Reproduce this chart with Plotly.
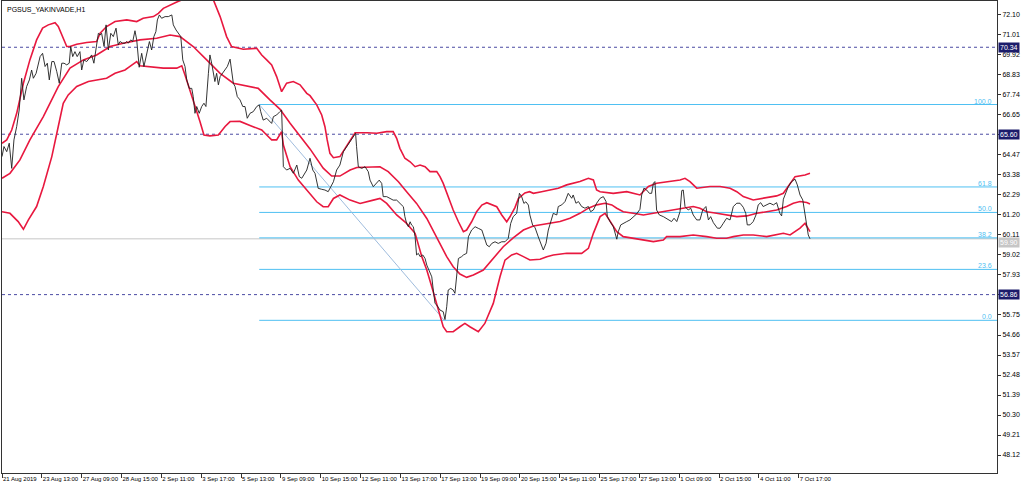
import plotly.graph_objects as go

symbol_title = "PGSUS_YAKINVADE,H1"

x_labels = ["21 Aug 2019", "23 Aug 13:00", "27 Aug 09:00", "28 Aug 15:00", "2 Sep 11:00",
            "3 Sep 17:00", "5 Sep 13:00", "9 Sep 09:00", "10 Sep 15:00", "12 Sep 11:00",
            "13 Sep 17:00", "17 Sep 13:00", "19 Sep 09:00", "20 Sep 15:00", "24 Sep 11:00",
            "25 Sep 17:00", "27 Sep 13:00", "1 Oct 09:00", "2 Oct 15:00", "4 Oct 11:00",
            "7 Oct 17:00"]
bars_per_label = 16
x_max_bar = 399.6

y_ticks = [72.10, 71.01, 69.92, 68.83, 67.74, 66.65, 65.56, 64.47, 63.38, 62.29, 61.20,
           60.11, 59.02, 57.93, 56.84, 55.75, 54.66, 53.57, 52.48, 51.39, 50.30, 49.21, 48.12]
# tick labels hidden behind the price-label boxes in the reference
y_ticks_hidden = [65.56, 56.84]
y_range = [47.14, 72.86]

level_lines = [70.34, 65.60, 56.86]
bid_price = 59.90

fib_start_bar = 103.3
fib_end_bar = 177.6
fib_high = 67.22
fib_low = 55.46
fib_levels = [0.0, 23.6, 38.2, 50.0, 61.8, 100.0]

# (bar index, price)
price_pts = [
    (0, 64.38), (0.8, 64.93), (1.9, 64.65), (2.9, 65.11), (3.9, 63.74), (4.8, 65.29), (5.9, 66.02), (6.9, 66.92), (7.9, 68.65), (8.8, 67.47),
    (9.9, 68.20), (11.0, 68.56), (11.9, 69.10), (12.6, 68.65), (13.7, 68.92), (14.6, 69.47), (15.3, 69.83), (16.3, 70.01), (17.3, 69.29), (18.2, 69.47),
    (19.0, 68.56), (20.0, 69.56), (20.9, 69.56), (22.0, 69.01), (23.0, 68.38), (24.0, 69.47), (24.9, 69.47), (26.0, 69.38), (27.0, 69.47), (27.6, 70.38),
    (28.4, 69.83), (29.3, 70.10), (30.2, 69.83), (31.3, 70.10), (32.0, 69.10), (32.9, 69.65), (34.0, 69.56), (35.1, 69.74), (36.0, 69.92), (36.9, 69.47),
    (38.0, 70.38), (38.7, 71.10), (39.4, 71.01), (40.0, 71.10), (41.0, 70.38), (41.8, 71.56), (42.7, 70.19), (43.7, 71.10), (44.7, 70.92), (45.8, 71.38),
    (46.7, 70.47), (47.4, 70.65), (48.5, 70.56), (49.4, 70.56), (50.1, 70.65), (50.7, 70.56), (51.7, 70.74), (52.5, 70.65), (53.4, 71.24), (54.1, 70.74),
    (55.1, 69.25), (56.1, 70.01), (57.0, 69.29), (58.1, 70.01), (59.2, 70.65), (60.1, 70.19), (61.0, 70.92), (61.8, 71.19), (62.4, 71.83), (63.2, 72.10),
    (64.1, 71.92), (65.5, 72.01), (66.8, 72.01), (68.2, 72.10), (68.8, 71.56), (69.9, 71.28), (70.8, 71.10), (71.8, 70.92), (72.6, 69.65), (73.5, 69.29),
    (74.2, 68.56), (75.2, 68.10), (76.2, 68.10), (76.8, 67.65), (77.5, 66.74), (78.2, 67.11), (79.2, 66.74), (80.2, 67.11), (81.1, 67.29), (81.9, 67.11),
    (82.9, 68.92), (83.5, 69.92), (84.2, 69.47), (84.9, 68.92), (85.5, 68.47), (86.2, 68.92), (86.9, 68.29), (87.6, 68.74), (88.6, 68.92), (89.6, 69.10),
    (90.5, 69.29), (91.6, 69.69), (92.2, 69.01), (92.9, 68.38), (93.6, 68.20), (94.5, 67.65), (95.6, 67.47), (96.7, 67.11), (97.6, 67.11), (98.5, 66.47),
    (99.6, 66.74), (100.9, 66.83), (102.3, 67.11), (103.3, 67.20), (103.9, 66.83), (104.9, 66.37), (106.3, 66.47), (108.3, 66.19), (109.0, 66.56), (110.3, 66.65),
    (111.6, 66.83), (112.3, 66.92), (113.0, 63.83), (114.3, 63.65), (115.7, 63.74), (117.0, 63.47), (118.4, 63.92), (119.4, 63.29), (120.4, 63.20), (121.3, 63.38),
    (122.4, 63.65), (123.7, 64.29), (124.8, 63.65), (125.7, 63.47), (127.0, 62.65), (128.4, 62.60), (129.7, 62.56), (131.0, 62.47), (132.0, 62.74), (133.1, 63.01),
    (134.4, 63.65), (135.7, 63.92), (137.1, 64.65), (138.4, 64.92), (139.8, 65.19), (141.1, 65.47), (142.0, 65.65), (142.4, 64.92), (143.1, 63.83), (144.5, 63.74),
    (145.8, 63.83), (147.1, 63.56), (147.8, 63.10), (149.1, 62.74), (150.5, 62.92), (151.5, 63.10), (152.5, 62.92), (153.1, 62.20), (154.5, 62.20), (155.8, 62.10),
    (157.1, 62.01), (158.5, 62.01), (159.8, 61.83), (161.2, 61.65), (161.8, 61.11), (162.5, 60.74), (163.2, 60.56), (163.9, 60.83), (164.5, 60.65), (165.2, 60.56),
    (165.9, 60.01), (166.5, 59.02), (167.2, 59.11), (167.9, 58.93), (169.0, 59.02), (169.9, 58.83), (170.6, 58.47), (171.9, 58.11), (172.6, 57.83), (173.2, 57.11),
    (173.9, 56.38), (174.6, 56.29), (175.9, 56.02), (177.2, 55.93), (177.9, 55.50), (178.6, 56.20), (179.2, 57.11), (180.2, 57.20), (181.2, 57.11), (181.9, 56.93),
    (182.6, 58.11), (183.3, 58.83), (184.6, 58.93), (185.3, 59.02), (186.6, 59.11), (187.3, 60.01), (188.6, 60.38), (190.0, 60.56), (191.3, 60.47), (192.7, 60.38),
    (193.6, 60.01), (194.7, 59.56), (195.7, 59.47), (196.7, 59.65), (198.0, 59.74), (199.3, 59.65), (200.7, 59.74), (202.0, 59.74), (203.3, 59.92), (204.3, 60.74),
    (205.3, 61.11), (206.7, 61.29), (207.8, 62.38), (208.7, 62.20), (209.6, 61.83), (210.4, 61.92), (211.4, 61.74), (212.0, 61.20), (213.1, 60.65), (214.1, 60.50),
    (215.4, 60.00), (216.7, 59.48), (217.4, 59.29), (218.5, 59.66), (219.4, 60.38), (221.4, 61.29), (222.8, 61.20), (223.4, 61.66), (224.8, 61.75), (226.1, 61.93),
    (227.4, 62.38), (228.8, 62.11), (229.4, 62.29), (230.5, 61.84), (231.5, 61.93), (232.8, 61.66), (234.1, 61.57), (235.5, 61.66), (236.4, 61.38), (237.5, 61.47),
    (238.8, 61.84), (240.2, 62.11), (241.5, 62.20), (242.6, 61.93), (243.1, 61.11), (244.2, 60.84), (245.5, 60.57), (246.9, 59.88), (247.5, 60.29), (248.5, 60.66),
    (249.5, 60.75), (250.9, 60.84), (252.2, 60.93), (253.5, 61.07), (254.9, 61.26), (256.2, 61.51), (256.9, 62.29), (257.8, 62.66), (258.9, 62.56), (260.0, 62.38),
    (260.9, 62.38), (261.6, 62.93), (262.2, 63.02), (262.9, 61.47), (264.0, 61.20), (265.6, 61.11), (266.9, 61.02), (268.3, 60.89), (268.9, 60.84), (269.9, 61.02),
    (271.0, 60.84), (272.3, 61.38), (273.0, 62.53), (273.6, 62.56), (274.3, 61.66), (275.6, 61.47), (276.6, 61.57), (277.6, 61.20), (279.0, 60.93), (280.3, 60.93),
    (281.4, 61.47), (282.7, 61.66), (283.7, 60.93), (284.6, 61.11), (285.7, 60.78), (287.3, 60.48), (288.4, 60.48), (289.7, 60.75), (291.0, 61.02), (292.4, 60.93),
    (293.7, 61.66), (295.1, 61.84), (296.4, 61.84), (297.7, 61.62), (298.7, 61.29), (299.3, 60.66), (300.4, 60.66), (301.7, 60.84), (302.8, 61.20), (303.7, 61.75),
    (304.7, 61.87), (305.7, 61.66), (307.1, 61.75), (308.4, 61.84), (309.8, 61.75), (311.1, 61.87), (312.4, 61.29), (313.1, 61.15), (313.8, 62.06), (314.9, 62.47),
    (315.8, 62.75), (317.1, 63.02), (318.5, 63.15), (319.4, 62.84), (320.5, 62.29), (321.6, 62.02), (322.5, 61.20), (323.2, 60.57), (323.8, 60.11), (324.5, 59.90),
]

upper_pts = [
    (0, 65.11), (1.9, 65.29), (3.9, 65.83), (5.9, 66.74), (8.6, 68.38), (11.2, 69.65), (13.9, 70.74), (16.3, 71.38), (18.6, 71.56), (21.3, 71.68),
    (22.6, 71.47), (24.0, 71.01), (26.0, 70.38), (27.3, 70.38), (30.0, 70.50), (34.0, 70.60), (38.0, 70.65), (39.4, 71.10), (42.0, 71.47), (45.4, 71.74),
    (50.1, 71.83), (54.1, 71.74), (56.7, 71.92), (60.8, 72.01), (62.8, 72.19), (64.8, 72.46), (67.5, 72.65), (70.2, 72.80), (72.2, 72.92), (74.2, 73.05),
    (76.8, 73.40), (79.5, 73.70), (82.2, 73.60), (84.9, 72.92), (87.6, 72.01), (90.2, 70.92), (92.2, 70.38), (96.9, 70.23), (102.3, 70.28), (104.3, 69.92),
    (106.3, 69.65), (108.3, 69.38), (110.3, 68.74), (112.3, 67.92), (114.3, 68.38), (117.0, 68.47), (119.7, 68.29), (122.4, 67.83), (123.7, 67.70), (126.4, 67.20),
    (128.4, 66.65), (129.7, 66.01), (130.6, 65.29), (131.7, 64.56), (133.1, 64.32), (135.7, 64.38), (137.8, 64.83), (139.8, 65.28), (141.8, 65.68), (146.5, 65.68),
    (150.5, 65.65), (154.5, 65.74), (157.1, 65.74), (158.5, 65.38), (159.8, 64.83), (161.8, 64.29), (163.9, 64.10), (165.9, 63.83), (167.9, 63.92), (169.9, 63.83),
    (171.9, 63.56), (174.6, 63.56), (175.9, 63.29), (177.2, 62.92), (179.2, 62.20), (181.2, 61.47), (183.3, 60.83), (185.3, 60.29), (186.6, 60.38), (188.6, 60.83),
    (190.6, 61.38), (192.7, 61.74), (194.7, 61.87), (196.7, 61.74), (198.7, 61.65), (200.7, 61.20), (202.7, 60.83), (204.0, 61.10), (206.0, 61.60), (207.4, 62.10),
    (208.7, 62.25), (210.0, 62.40), (211.9, 62.47), (213.4, 62.38), (216.7, 62.47), (220.1, 62.56), (223.4, 62.66), (226.8, 62.84), (232.1, 63.02), (235.5, 63.20),
    (237.5, 63.11), (238.8, 62.56), (240.2, 62.47), (245.5, 62.38), (250.9, 62.47), (256.2, 62.29), (259.6, 62.75), (262.9, 62.93), (268.3, 63.02), (272.3, 63.11),
    (274.3, 63.20), (276.3, 63.02), (279.0, 62.66), (284.3, 62.75), (288.4, 62.75), (292.4, 62.66), (295.1, 62.47), (297.7, 62.20), (301.7, 62.02), (305.7, 62.11),
    (311.1, 62.24), (313.8, 62.38), (316.5, 62.93), (318.5, 63.29), (322.5, 63.38), (324.5, 63.47),
]

middle_pts = [
    (0, 63.20), (3.2, 63.47), (7.2, 64.20), (11.2, 65.29), (16.6, 66.56), (22.6, 68.20), (27.3, 69.20), (32.7, 69.65), (38.0, 69.92), (43.4, 70.38),
    (48.7, 70.56), (55.4, 70.74), (62.1, 70.83), (67.5, 71.01), (71.5, 70.92), (76.8, 70.38), (82.2, 69.65), (87.6, 68.92), (92.9, 68.38), (98.3, 68.23),
    (102.9, 68.10), (107.6, 67.47), (111.6, 66.97), (115.7, 66.20), (119.7, 65.50), (123.7, 64.80), (129.0, 63.75), (132.4, 63.32), (135.7, 63.32), (139.8, 63.65),
    (142.5, 63.79), (146.5, 63.79), (151.8, 63.83), (155.1, 63.56), (159.2, 63.01), (162.5, 62.47), (166.5, 61.83), (170.6, 61.01), (174.6, 60.01), (178.6, 58.93),
    (181.2, 58.38), (183.9, 57.98), (186.6, 57.80), (189.3, 57.93), (193.3, 58.20), (197.3, 58.83), (201.3, 59.47), (205.3, 59.95), (209.4, 60.38), (213.4, 60.60),
    (216.1, 60.66), (220.1, 60.75), (224.1, 60.84), (228.1, 61.02), (232.1, 61.29), (235.5, 61.57), (238.8, 61.75), (242.2, 61.84), (244.9, 61.75), (246.9, 61.57),
    (249.5, 61.38), (253.5, 61.29), (257.6, 61.20), (261.6, 61.29), (265.6, 61.38), (269.6, 61.47), (273.6, 61.57), (277.6, 61.66), (280.3, 61.57), (283.0, 61.38),
    (287.0, 61.29), (291.0, 61.20), (295.1, 61.11), (299.1, 61.15), (303.1, 61.29), (307.1, 61.38), (311.1, 61.47), (315.1, 61.66), (317.8, 61.84), (320.5, 61.93),
    (323.2, 61.88), (324.5, 61.80),
]

lower_pts = [
    (0, 61.38), (3.2, 61.29), (6.5, 60.84), (8.6, 60.42), (10.6, 60.93), (13.9, 61.66), (16.6, 62.75), (20.0, 64.38), (22.6, 66.02), (24.6, 67.29),
    (26.6, 67.74), (30.0, 68.20), (34.7, 68.47), (39.4, 68.60), (42.0, 68.65), (45.4, 68.92), (49.4, 69.10), (51.4, 69.30), (53.4, 69.50), (54.1, 69.56),
    (55.4, 69.33), (59.4, 69.29), (64.8, 69.20), (70.2, 69.20), (72.2, 69.33), (73.5, 68.83), (76.8, 67.47), (79.5, 66.29), (81.1, 65.56), (83.5, 65.51),
    (86.9, 65.56), (89.6, 66.02), (91.6, 66.29), (95.6, 66.30), (99.6, 66.08), (104.3, 65.83), (106.3, 65.56), (108.3, 65.29), (110.3, 65.29), (112.3, 65.74),
    (113.0, 65.01), (115.7, 63.83), (119.0, 63.10), (122.4, 62.56), (126.4, 61.92), (129.0, 61.65), (131.0, 61.65), (133.1, 62.10), (135.7, 62.29), (139.8, 62.01),
    (143.8, 61.83), (149.1, 62.01), (151.8, 62.10), (154.5, 61.83), (158.5, 61.20), (162.5, 60.74), (165.9, 60.20), (168.6, 58.93), (170.6, 58.20), (172.6, 57.29),
    (174.6, 56.38), (175.9, 55.65), (177.2, 55.11), (178.6, 54.84), (181.2, 54.84), (183.9, 55.11), (185.9, 55.29), (187.9, 55.11), (191.3, 54.84), (193.9, 55.29),
    (197.3, 56.38), (200.0, 57.83), (202.0, 58.74), (204.7, 59.02), (206.7, 59.11), (209.4, 58.93), (212.0, 58.75), (216.1, 58.79), (218.8, 58.93), (221.4, 59.02),
    (226.8, 59.11), (232.8, 59.11), (235.5, 59.38), (237.5, 60.20), (240.2, 61.11), (242.2, 61.29), (244.2, 60.84), (246.9, 60.29), (249.5, 60.02), (253.5, 59.93),
    (257.6, 59.84), (261.6, 59.75), (265.6, 59.84), (266.9, 60.02), (272.3, 60.02), (277.6, 60.11), (283.0, 60.02), (287.0, 59.93), (291.0, 59.93), (293.7, 60.02),
    (297.7, 60.11), (301.7, 60.11), (307.1, 60.02), (311.1, 60.11), (313.8, 60.20), (316.5, 60.11), (318.5, 60.29), (320.5, 60.48), (322.5, 60.75), (323.4, 60.57),
    (324.5, 60.29),
]

BAND_COLOR = "#E8183F"
PRICE_COLOR = "#1E1E1E"
LEVEL_COLOR = "#4B4BA3"
LABEL_BG = "#1C1C6B"
FIB_COLOR = "#4FC0F2"
FIB_TREND_COLOR = "#9FBCDD"
BID_COLOR = "#C6C6C6"
FONT = "Liberation Sans"

fig = go.Figure()

for pts in (upper_pts, middle_pts, lower_pts):
    bx, by = zip(*pts)
    fig.add_trace(go.Scatter(x=list(bx), y=list(by), mode="lines",
                             line=dict(color=BAND_COLOR, width=1.6), hoverinfo="skip"))

px_, py_ = zip(*price_pts)
fig.add_trace(go.Scatter(x=list(px_), y=list(py_), mode="lines",
                         line=dict(color=PRICE_COLOR, width=0.9), hoverinfo="skip"))

shapes = []
annotations = []

# horizontal level lines
for v in level_lines:
    shapes.append(dict(type="line", xref="paper", x0=0, x1=1, yref="y", y0=v, y1=v,
                       line=dict(color=LEVEL_COLOR, width=1, dash="dot"), layer="below"))
# bid line
shapes.append(dict(type="line", xref="paper", x0=0, x1=1, yref="y", y0=bid_price, y1=bid_price,
                   line=dict(color=BID_COLOR, width=1), layer="below"))

# fibonacci
fib_span = fib_high - fib_low
for lv in fib_levels:
    yv = fib_low + fib_span * lv / 100.0
    shapes.append(dict(type="line", xref="x", x0=fib_start_bar, x1=x_max_bar, yref="y", y0=yv, y1=yv,
                       line=dict(color=FIB_COLOR, width=1), layer="below"))
    annotations.append(dict(xref="paper", x=1, xanchor="right", xshift=-3, yref="y", y=yv,
                            yanchor="bottom", yshift=-2, text=f"{lv:.1f}", showarrow=False,
                            font=dict(family=FONT, size=7, color=FIB_COLOR)))
shapes.append(dict(type="line", xref="x", yref="y", x0=fib_start_bar, y0=fib_high,
                   x1=fib_end_bar, y1=fib_low, line=dict(color=FIB_TREND_COLOR, width=1), layer="below"))

# price label boxes on the right axis
for v in level_lines:
    annotations.append(dict(xref="paper", x=1, xanchor="left", xshift=1, yref="y", y=v,
                            yanchor="middle", text=f"{v:.2f}", showarrow=False,
                            bgcolor=LABEL_BG, borderpad=1,
                            font=dict(family=FONT, size=7, color="white")))
annotations.append(dict(xref="paper", x=1, xanchor="left", xshift=1, yref="y", y=bid_price,
                        yanchor="top", yshift=2, text=f"{bid_price:.2f}", showarrow=False,
                        bgcolor=BID_COLOR, borderpad=1,
                        font=dict(family=FONT, size=7, color="white")))

# chart title
annotations.append(dict(xref="paper", yref="paper", x=0, y=1, xanchor="left", yanchor="top",
                        xshift=3, yshift=-3, text=symbol_title, showarrow=False,
                        font=dict(family=FONT, size=7, color="black")))

fig.update_layout(
    width=1024, height=487,
    margin=dict(l=2, r=27, t=1, b=14, autoexpand=False),
    paper_bgcolor="white", plot_bgcolor="white",
    showlegend=False,
    font=dict(family=FONT, size=7, color="black"),
    shapes=shapes, annotations=annotations,
    xaxis=dict(range=[0, x_max_bar], showgrid=False, zeroline=False, automargin=False,
               showline=True, linecolor="#333", linewidth=1, mirror=True,
               ticks="outside", ticklen=4, tickcolor="#333", tickangle=0,
               tickvals=[i * bars_per_label for i in range(len(x_labels))],
               ticktext=x_labels, ticklabelposition="outside right",
               ticklabeloverflow="allow",
               tickfont=dict(family=FONT, size=6, color="black")),
    yaxis=dict(range=y_range, side="right", showgrid=False, zeroline=False, automargin=False,
               showline=True, linecolor="#333", linewidth=1, mirror=True,
               ticks="outside", ticklen=3, tickcolor="#333",
               tickvals=y_ticks,
               ticktext=["" if t in y_ticks_hidden else f"{t:.2f}" for t in y_ticks],
               tickfont=dict(family=FONT, size=7, color="black")),
)

fig.write_html("out.html", config={"displayModeBar": False},
               post_script="document.body.style.margin='0';document.body.style.overflow='hidden';")
